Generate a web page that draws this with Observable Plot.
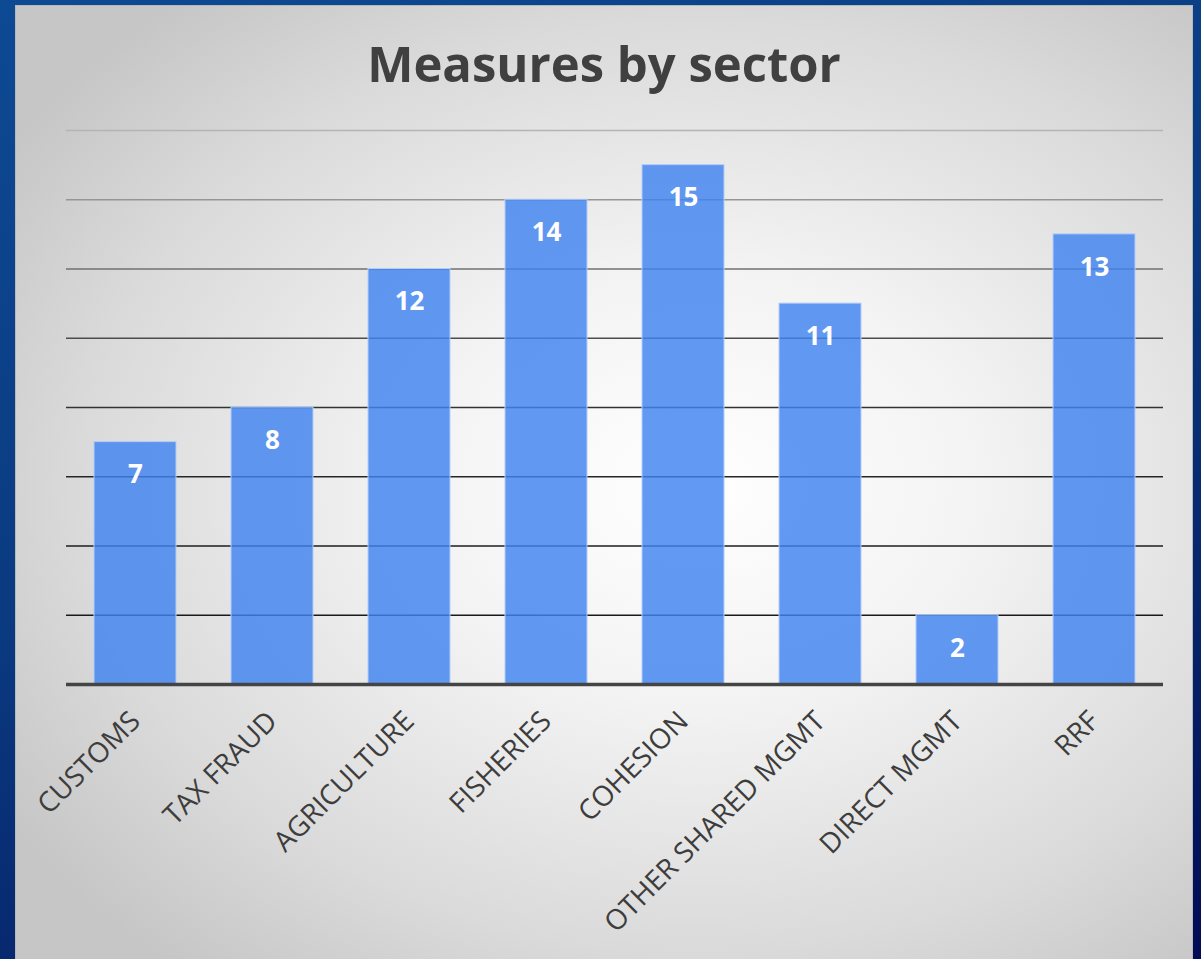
<!DOCTYPE html>
<html>
<head>
<meta charset="utf-8">
<script src="https://cdn.jsdelivr.net/npm/d3@7"></script>
<script src="https://cdn.jsdelivr.net/npm/@observablehq/plot@0.6"></script>
<style>
  html, body { margin: 0; padding: 0; }
  body {
    width: 1201px; height: 959px; overflow: hidden; position: relative;
    background: linear-gradient(160deg, #0d4a94 0%, #0a3a80 45%, #06246a 75%, #020c55 100%);
    font-family: "Open Sans", sans-serif;
  }
  #panel {
    position: absolute; left: 15px; top: 5px; width: 1178px; height: 960px;
    background: radial-gradient(ellipse 70% 65% at 58% 50%, #ffffff 0%, #f3f3f3 35%, #dadada 75%, #c6c6c6 100%);
    border: 1px solid #b8b8b8; box-sizing: border-box;
  }
  #title {
    position: absolute; left: 0; top: 30px; width: 1208px; text-align: center;
    font-family: "Open Sans", sans-serif; font-weight: 700; font-size: 49px; color: #404040;
  }
  #chart { position: absolute; left: 0; top: 100px; }
</style>
</head>
<body>
<div id="panel"></div>
<div id="title">Measures by sector</div>
<div id="chart"></div>
<script>
const sectors = ["CUSTOMS", "TAX FRAUD", "AGRICULTURE", "FISHERIES", "COHESION", "OTHER SHARED MGMT", "DIRECT MGMT", "RRF"];
const measures = [7, 8, 12, 14, 15, 11, 2, 13];
const gridValues = [2, 4, 6, 8, 10, 12, 14, 16];
const gridColors = ["#1a1a1a", "#1e1e1e", "#262626", "#333333", "#4d4d4d", "#707070", "#959595", "#b4b4b4"];

const data = sectors.map((s, i) => ({sector: s, value: measures[i]}));
const grid = gridValues.map((v, i) => ({v, c: gridColors[i]}));

const chart = Plot.plot({
  width: 1201,
  height: 859,
  marginLeft: 66,
  marginRight: 38,
  marginTop: 30,
  marginBottom: 275,
  style: {background: "transparent", fontFamily: "Open Sans, sans-serif", overflow: "visible"},
  x: {domain: sectors, paddingInner: 0.4, paddingOuter: 0.2, label: null},
  y: {domain: [0, 16], axis: null},
  marks: [
    Plot.ruleY(grid, {y: "v", stroke: "c", strokeWidth: 1.5}),
    Plot.barY(data, {x: "sector", y: "value", fill: "#3f82f0", fillOpacity: 0.82, stroke: "#b3cdf8", strokeWidth: 1}),
    Plot.ruleY([0], {stroke: "#444444", strokeWidth: 3.5}),
    Plot.text(data, {x: "sector", y: "value", text: d => String(d.value), dy: 33, fill: "white", fontWeight: "bold", fontSize: 26}),
    Plot.axisX({tickRotate: -45, tickSize: 0, tickPadding: 32, fontSize: 28, color: "#3d3d3d", label: null})
  ]
});
document.getElementById("chart").appendChild(chart);
</script>
</body>
</html>
